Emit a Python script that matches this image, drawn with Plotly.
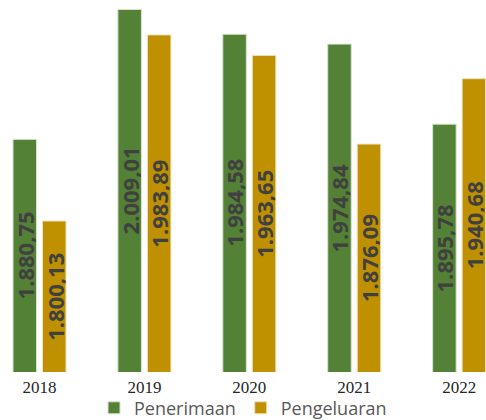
import plotly.graph_objects as go

years = ["2018", "2019", "2020", "2021", "2022"]
penerimaan = [1880.75, 2009.01, 1984.58, 1974.84, 1895.78]
pengeluaran = [1800.13, 1983.89, 1963.65, 1876.09, 1940.68]

GREEN = "#538135"
GOLD = "#BF9000"
Y_MIN, Y_MAX = 1651, 2018.4
BARGAP, BARGROUPGAP = 0.4375, 0.203


def fmt_id(v):
    s = f"{v:,.2f}"
    return s.replace(",", "X").replace(".", ",").replace("X", ".")


fig = go.Figure()
fig.add_trace(go.Bar(
    name="Penerimaan", x=years, y=penerimaan,
    marker=dict(color=GREEN, line=dict(color="#d8e2d2", width=1)),
    hoverinfo="skip",
))
fig.add_trace(go.Bar(
    name="Pengeluaran", x=years, y=pengeluaran,
    marker=dict(color=GOLD, line=dict(color="#ece0c0", width=1)),
    hoverinfo="skip",
))

slot = (1 - BARGAP) / 2
label_font = dict(family="Open Sans", size=22, color="#404040", weight="bold")
for series, sign in ((penerimaan, -1), (pengeluaran, 1)):
    for i, v in enumerate(series):
        fig.add_annotation(
            x=i + sign * slot / 2, y=(Y_MIN + v) / 2, xref="x", yref="y",
            text=fmt_id(v), textangle=-90, showarrow=False,
            font=label_font, height=22, borderpad=0,
        )

fig.update_layout(
    width=486, height=420,
    margin=dict(l=0, r=0, t=0, b=48, pad=0, autoexpand=False),
    paper_bgcolor="white", plot_bgcolor="white",
    barmode="group", bargap=BARGAP, bargroupgap=BARGROUPGAP,
    showlegend=True,
    legend=dict(orientation="h", x=0.5, xanchor="center", y=-0.097, yanchor="middle",
                font=dict(family="Open Sans", size=18, color="#595959"),
                itemwidth=30, bgcolor="rgba(0,0,0,0)"),
    xaxis=dict(type="category", range=[-0.3765, 4.256], showgrid=False, zeroline=False,
               showline=False, ticks="", automargin=False, ticklabelstandoff=3,
               tickfont=dict(family="Liberation Serif", size=17, color="#262626")),
    yaxis=dict(range=[Y_MIN, Y_MAX], visible=False, showgrid=False, zeroline=False,
               automargin=False),
)

fig.write_html("out.html", config={"displayModeBar": False},
               post_script="document.body.style.margin='0';document.body.style.padding='0';")
